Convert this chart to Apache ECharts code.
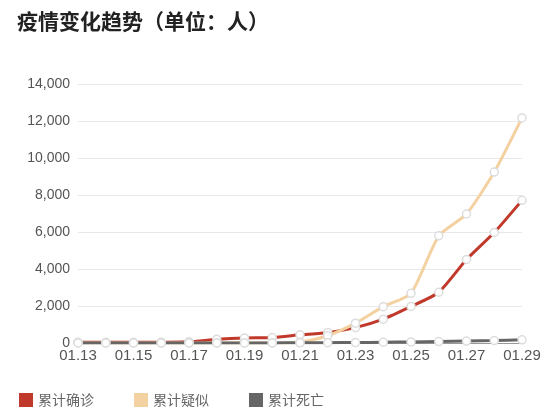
<!DOCTYPE html><html><head><meta charset="utf-8"><script src="https://cdn.jsdelivr.net/npm/echarts@6/dist/echarts.min.js"></script></head><body style="margin:0;background:#fff"><div id="c" style="width:556px;height:418px"></div><script>
const categories=['01.13','01.14','01.15','01.16','01.17','01.18','01.19','01.20','01.21','01.22','01.23','01.24','01.25','01.26','01.27','01.28','01.29'];
const confirmed=[41,41,41,45,62,198,275,291,440,571,830,1287,1975,2744,4515,5974,7711];
const suspected=[0,0,0,0,0,0,0,0,37,393,1072,1965,2684,5794,6973,9239,12167];
const deaths=[1,1,2,2,2,3,4,6,9,17,25,41,56,80,106,132,170];
const yTicks=[0,2000,4000,6000,8000,10000,12000,14000];
const colors={'累计确诊':'#c0392b','累计疑似':'#f3d1a0','累计死亡':'#666666'};
const ch=echarts.init(document.getElementById('c'));
function s(name,data){return {name,type:'line',data,smooth:0.2,symbol:'circle',symbolSize:8,itemStyle:{color:'#fff',borderColor:'#ddd',borderWidth:1.5},lineStyle:{color:colors[name],width:3}};}
ch.setOption({
title:{text:'疫情变化趋势（单位：人）',left:12,top:6,textStyle:{fontSize:21,fontWeight:'bold',color:'#222',fontFamily:'Noto Sans CJK SC'}},
legend:{left:14,top:388,itemWidth:14,itemHeight:14,itemGap:40,icon:'rect',textStyle:{color:'#666',fontSize:14,fontFamily:'Noto Sans CJK SC'},data:Object.keys(colors).map(n=>({name:n,itemStyle:{color:colors[n],borderWidth:0}}))},
grid:{left:78,right:34,top:84,bottom:75},
xAxis:{type:'category',data:categories,boundaryGap:false,axisTick:{show:false},axisLine:{lineStyle:{color:'#999'}},axisLabel:{interval:1,color:'#555',fontSize:15,margin:5}},
yAxis:{type:'value',min:0,max:14000,interval:2000,axisLabel:{color:'#555',fontSize:14,formatter:v=>yTicks.includes(v)?v.toLocaleString('en-US'):''},splitLine:{lineStyle:{color:'#e8e8e8'}}},
series:Object.keys(colors).map((n,i)=>s(n,[confirmed,suspected,deaths][i]))
});
</script></body></html>
